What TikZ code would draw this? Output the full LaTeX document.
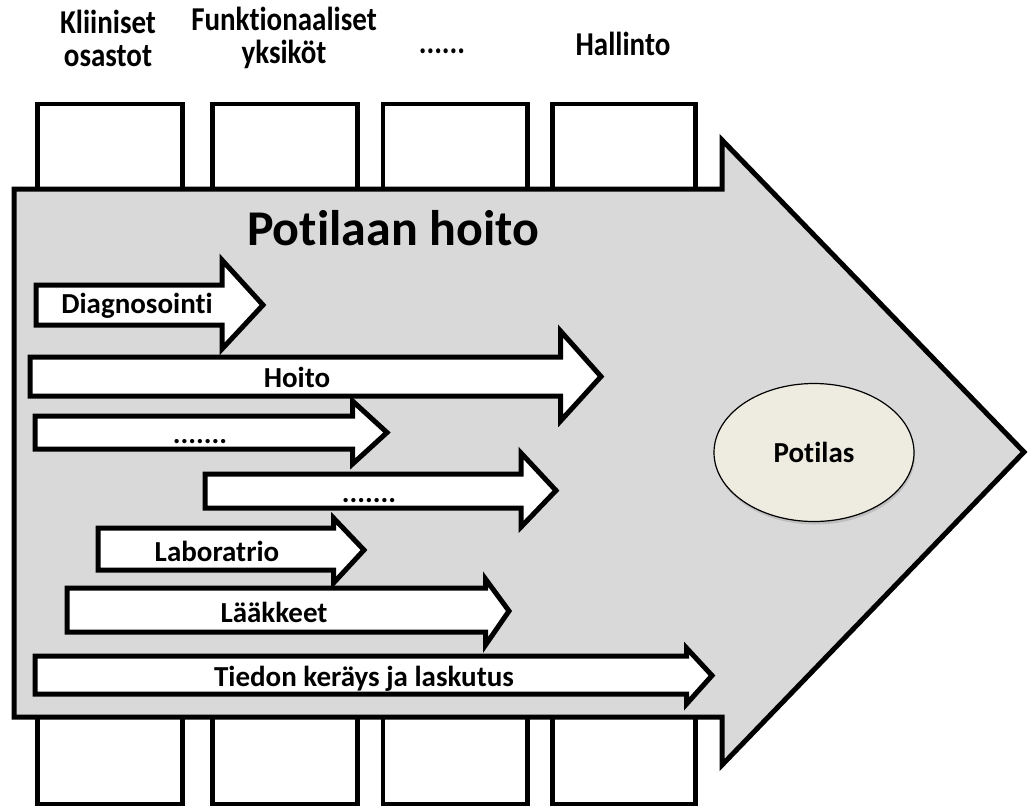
\documentclass[tikz,border=0pt]{standalone}
\usepackage{fontspec}
\setmainfont{Carlito}[Ligatures=NoCommon]
\usetikzlibrary{shapes.geometric,shadows}
\definecolor{arrowgray}{HTML}{D9D9D9}
\definecolor{patientfill}{HTML}{EEECE1}

\begin{document}
\begin{tikzpicture}[x=1pt,y=-1pt,
  unitbox/.style={draw, line width=4.5pt, fill=white, line join=miter},
  bigarrow/.style={draw, line width=5pt, fill=arrowgray, line join=miter},
  procarrow/.style={draw, line width=5pt, fill=white, line join=miter},
  lbl/.style={font=\fontsize{29}{34}\selectfont\bfseries, inner sep=0pt, anchor=base},
  hdr/.style={font=\fontsize{29}{29}\selectfont\bfseries, inner sep=0pt},
]
\useasboundingbox (0,0) rectangle (1030,807);

% organisational units above and below the care process
\foreach \xa/\xb [count=\i] in {37.5/182.5, 212.5/357.5, 383/527.5, 552.5/695.5} {
  \draw[unitbox] (\xa,104) rectangle (\xb,189);
  \draw[unitbox] (\xa,717) rectangle (\xb,804);
}

% the care process as one large arrow
\draw[bigarrow] (14,189) -- (722,189) -- (722,140) -- (1024,452)
  -- (722,765) -- (722,717) -- (14,717) -- cycle;

\node[font=\fontsize{50}{60}\selectfont\bfseries, inner sep=0pt, anchor=base]
  (title) at (393,245) {Potilaan hoito};

% sub-processes
\draw[procarrow] (36,285) -- (222,285) -- (222,260) -- (263,305)
  -- (222,349) -- (222,325) -- (36,325) -- cycle;
\node[lbl] (diag) at (137,313) {Diagnosointi};

\draw[procarrow] (30,357) -- (560.5,357) -- (560.5,331) -- (601,376.5)
  -- (560.5,421) -- (560.5,396) -- (30,396) -- cycle;
\node[lbl] (hoito) at (297,387) {Hoito};

\draw[procarrow] (35,416) -- (352.5,416) -- (352.5,401) -- (387,432.5)
  -- (352.5,464) -- (352.5,449) -- (35,449) -- cycle;
\node[lbl] (dots1) at (200,443) {.......};

\draw[procarrow] (205,474) -- (521,474) -- (521,453) -- (556,490.5)
  -- (521,527) -- (521,508) -- (205,508) -- cycle;
\node[lbl] (dots2) at (369,502) {.......};

\draw[procarrow] (98,528) -- (333.5,528) -- (333.5,518) -- (364,550)
  -- (333.5,583) -- (333.5,570) -- (98,570) -- cycle;
\node[lbl] (lab) at (217,561) {Laboratrio};

\draw[procarrow] (67,588) -- (485.5,588) -- (485.5,579) -- (509,611)
  -- (485.5,645) -- (485.5,632) -- (67,632) -- cycle;
\node[lbl] (laak) at (274,622) {Lääkkeet};

\draw[procarrow] (35,656) -- (686.5,656) -- (686.5,648) -- (712,675.5)
  -- (686.5,704) -- (686.5,694) -- (35,694) -- cycle;
\node[lbl] (tieto) at (364,686) {Tiedon keräys ja laskutus};

% the patient at the head of the process
\node[ellipse, draw, line width=1.2pt, fill=patientfill,
  minimum width=200pt, minimum height=138pt, inner sep=0pt,
  drop shadow={opacity=0.3, shadow xshift=1pt, shadow yshift=-3pt},
  font=\fontsize{29}{34}\selectfont\bfseries] (potilas) at (814,452.5) {Potilas};

% unit headings
\node[hdr] (clin) at (108,43)
  {\scalebox{1}[1.15]{\begin{tabular}{@{}c@{}}Kliiniset\\osastot\end{tabular}}};
\node[hdr] (func) at (284,40)
  {\scalebox{1}[1.15]{\begin{tabular}{@{}c@{}}Funktionaaliset\\yksiköt\end{tabular}}};
\node[hdr, anchor=base] (more) at (442,53) {\scalebox{1}[1.15]{......}};
\node[hdr] (admin) at (623,44) {\scalebox{1}[1.15]{Hallinto}};
\end{tikzpicture}
\end{document}
